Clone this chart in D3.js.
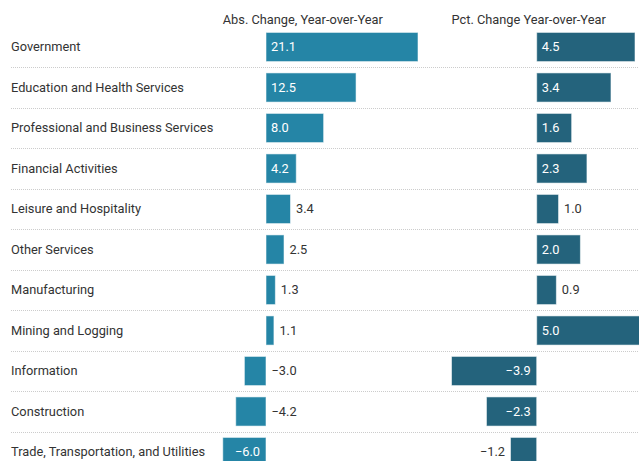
<!DOCTYPE html>
<html>
<head>
<meta charset="utf-8">
<script src="https://cdn.jsdelivr.net/npm/d3@7"></script>
<style>
  html, body { margin: 0; padding: 0; background: #fff; }
  svg { display: block; font-family: Roboto, "Noto Sans", sans-serif; }
</style>
</head>
<body>
<svg id="chart" width="639" height="461"></svg>
<script>
const categories = [
  "Government",
  "Education and Health Services",
  "Professional and Business Services",
  "Financial Activities",
  "Leisure and Hospitality",
  "Other Services",
  "Manufacturing",
  "Mining and Logging",
  "Information",
  "Construction",
  "Trade, Transportation, and Utilities"
];
const absChange = [21.1, 12.5, 8.0, 4.2, 3.4, 2.5, 1.3, 1.1, -3.0, -4.2, -6.0];
const pctChange = [4.5, 3.4, 1.6, 2.3, 1.0, 2.0, 0.9, 5.0, -3.9, -2.3, -1.2];
const columnTitles = ["Abs. Change, Year-over-Year", "Pct. Change Year-over-Year"];

const W = 639, H = 461;
const FS = 12.8;
const svg = d3.select("#chart");

const y = d3.scaleBand()
  .domain(categories)
  .range([26.75, 472.25])
  .paddingInner(0.28)
  .paddingOuter(0.14);

const xAbs = d3.scaleLinear().domain([0, 21.1]).range([266, 418]);
const xPct = d3.scaleLinear().domain([0, 4.5]).range([536.7, 635]);

const fmt = d3.format(".1f");

// separators
const step = y.step();
svg.append("g").selectAll("line")
  .data(categories.slice(1))
  .join("line")
  .attr("x1", 11).attr("x2", W)
  .attr("y1", d => Math.round(y(d) - step * y.paddingInner() / 2) + 0.5)
  .attr("y2", d => Math.round(y(d) - step * y.paddingInner() / 2) + 0.5)
  .attr("stroke", "#cccccc")
  .attr("stroke-width", 1)
  .attr("stroke-dasharray", "1,1");

// row labels
svg.append("g").selectAll("text")
  .data(categories)
  .join("text")
  .attr("x", 11)
  .attr("y", d => y(d) + y.bandwidth() / 2)
  .attr("dy", "0.35em")
  .attr("font-size", FS)
  .attr("fill", "#333")
  .text(d => d);

function drawColumn(values, x, color, title) {
  const g = svg.append("g");
  const colStart = Math.min(x(d3.min(values)), x(0));
  g.append("text")
    .attr("x", colStart)
    .attr("y", 24)
    .attr("font-size", FS)
    .attr("fill", "#333")
    .text(title);

  const data = categories.map((c, i) => ({ c, v: values[i] }));
  g.selectAll("rect")
    .data(data)
    .join("rect")
    .attr("x", d => Math.min(x(0), x(d.v)))
    .attr("y", d => y(d.c))
    .attr("width", d => Math.abs(x(d.v) - x(0)))
    .attr("height", y.bandwidth())
    .attr("fill", color)
    .attr("stroke", "rgba(255,255,255,0.55)")
    .attr("stroke-width", 1);

  g.selectAll("text.val")
    .data(data)
    .join("text")
    .attr("class", "val")
    .attr("font-size", FS)
    .attr("y", d => y(d.c) + y.bandwidth() / 2)
    .attr("dy", "0.35em")
    .text(d => fmt(d.v))
    .each(function (d) {
      const tw = this.getComputedTextLength();
      const w = Math.abs(x(d.v) - x(0));
      const inside = tw + 10 <= w;
      const t = d3.select(this);
      if (d.v >= 0) {
        if (inside) t.attr("x", x(0) + 5).attr("text-anchor", "start").attr("fill", "#fff");
        else t.attr("x", x(d.v) + 5.5).attr("text-anchor", "start").attr("fill", "#333");
      } else {
        if (inside) t.attr("x", x(0) - 6).attr("text-anchor", "end").attr("fill", "#fff");
        else if (x(d.v) - 5.5 - tw >= colStart) t.attr("x", x(d.v) - 5.5).attr("text-anchor", "end").attr("fill", "#333");
        else t.attr("x", x(0) + 5.5).attr("text-anchor", "start").attr("fill", "#333");
      }
    });
}

drawColumn(absChange, xAbs, "#2585a6", columnTitles[0]);
drawColumn(pctChange, xPct, "#24637c", columnTitles[1]);
</script>
</body>
</html>
